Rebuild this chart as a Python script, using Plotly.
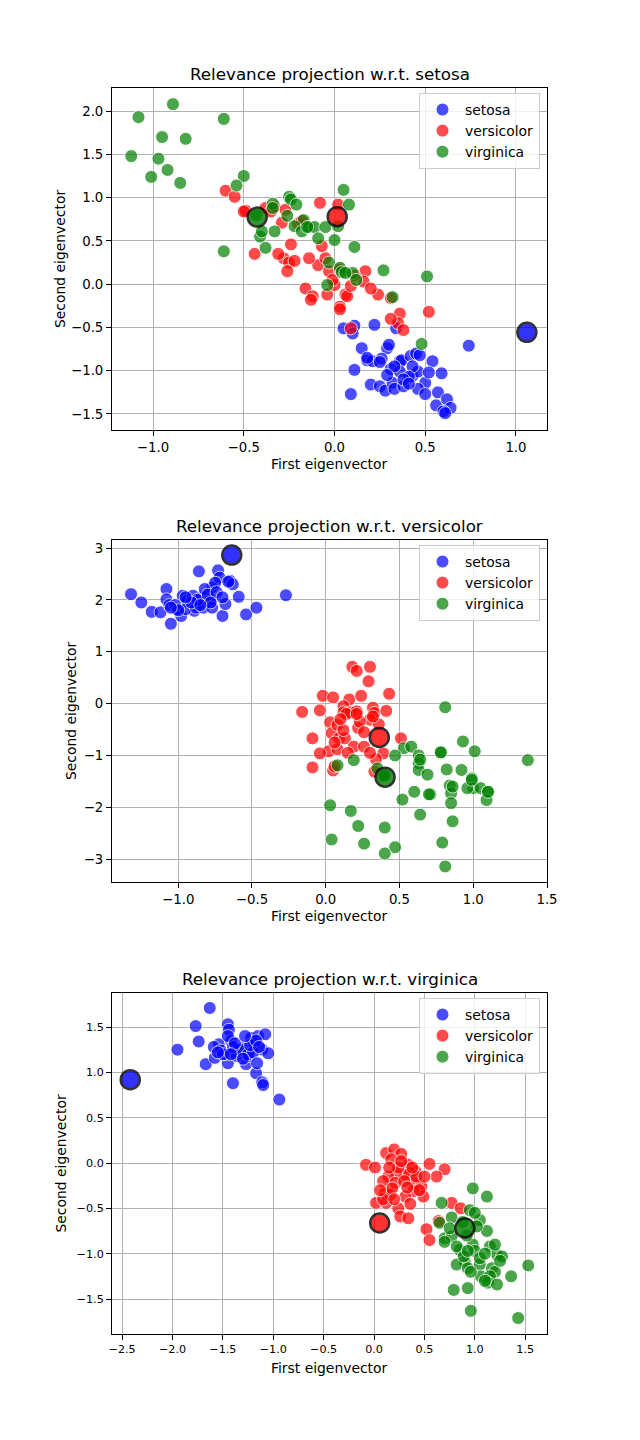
import plotly.graph_objects as go

W, H = 640, 1440

# ---------------- data ----------------
classes = ["setosa", "versicolor", "virginica"]
colors = {"setosa": "#0000ff", "versicolor": "#ff0000", "virginica": "#008000"}

# Subplot 1: relevance projection w.r.t. setosa
p1_setosa_x = [0.05, 0.11, 0.10, 0.22, 0.34, 0.74, 0.15, 0.18, 0.21, 0.29, 0.30, 0.26, 0.11, 0.20, 0.25, 0.28, 0.32, 0.33, 0.38, 0.36, 0.37, 0.42, 0.45, 0.31, 0.36, 0.43, 0.46, 0.43, 0.54, 0.59, 0.50, 0.46, 0.50, 0.09, 0.57, 0.56, 0.62, 0.64, 0.60, 0.61, 0.41, 0.33, 0.38, 0.25, 0.52, 0.47, 0.29, 0.41, 0.18]
p1_setosa_y = [-0.51, -0.48, -0.57, -0.47, -0.51, -0.71, -0.74, -0.88, -0.89, -0.74, -0.70, -0.86, -0.99, -1.16, -1.18, -1.23, -1.14, -1.21, -1.18, -0.89, -0.88, -0.83, -0.80, -0.98, -1.01, -1.06, -1.01, -0.95, -0.89, -1.03, -1.14, -1.21, -1.27, -1.27, -1.25, -1.40, -1.33, -1.43, -1.47, -1.49, -1.07, -0.95, -1.10, -0.90, -1.02, -0.82, -1.05, -1.15, -0.85]
p1_versicolor_x = [-0.60, -0.55, -0.49, -0.38, -0.35, -0.33, -0.08, -0.44, -0.24, -0.28, -0.25, -0.22, -0.26, -0.07, -0.09, -0.03, 0.03, 0.17, 0.16, -0.16, -0.12, -0.13, -0.04, 0.00, 0.06, 0.03, 0.03, 0.24, 0.31, 0.36, 0.35, 0.38, 0.52, 0.09, -0.29, -0.27, -0.20, 0.07, -0.01, 0.09, 0.31, -0.05, 0.11, -0.31, 0.20, -0.18, 0.02, -0.50, -0.14]
p1_versicolor_y = [1.08, 1.01, 0.85, 0.88, 0.84, 0.90, 0.94, 0.35, 0.46, 0.30, 0.25, 0.27, 0.15, 0.44, 0.22, 0.15, 0.17, 0.15, 0.03, -0.05, -0.14, -0.18, -0.12, -0.01, -0.12, -0.26, -0.29, -0.12, -0.16, -0.34, -0.45, -0.53, -0.32, -0.51, 0.71, 0.86, 0.70, -0.14, 0.05, -0.02, -0.40, 0.30, 0.10, 0.35, -0.05, 0.73, 0.92, 0.84, 0.30]
p1_virginica_x = [-0.89, -1.08, -0.61, -0.95, -0.82, -1.12, -0.97, -0.92, -1.01, -0.85, -0.50, -0.54, -0.61, -0.25, -0.24, -0.34, -0.34, -0.21, -0.26, -0.17, -0.22, -0.18, -0.14, -0.11, -0.05, -0.09, 0.00, 0.02, 0.05, 0.08, -0.41, -0.40, -0.38, -0.33, 0.11, -0.03, 0.03, 0.04, 0.10, 0.12, 0.27, 0.32, 0.51, -0.04, 0.48, -0.43, -0.15, 0.06]
p1_virginica_y = [2.08, 1.93, 1.91, 1.70, 1.68, 1.48, 1.45, 1.32, 1.24, 1.17, 1.25, 1.14, 0.38, 1.01, 0.98, 0.93, 0.88, 0.92, 0.79, 0.74, 0.67, 0.61, 0.66, 0.66, 0.66, 0.53, 0.51, 0.67, 1.09, 0.92, 0.55, 0.61, 0.42, 0.61, 0.43, 0.25, 0.19, 0.14, 0.13, 0.05, 0.16, -0.15, 0.09, -0.01, -0.69, 0.80, 0.66, 0.13]
p1_proto_x = [1.06, 0.015, -0.426]
p1_proto_y = [-0.556, 0.78, 0.775]

# Subplot 2: relevance projection w.r.t. versicolor
p2_setosa_x = [-1.32, -1.25, -1.18, -1.12, -1.05, -1.08, -1.08, -1.06, -0.98, -0.97, -0.94, -0.90, -0.89, -0.86, -0.84, -0.78, -0.77, -0.73, -0.72, -0.70, -0.68, -0.65, -0.63, -0.59, -0.54, -0.47, -0.27, -1.01, -0.95, -0.88, -0.83, -0.77, -0.82, -0.75, -0.87, -0.91, -1.02, -1.00, -0.80, -0.74, -0.78, -0.85, -0.95, -1.05, -0.70, -0.66]
p2_setosa_y = [2.11, 1.95, 1.77, 1.76, 1.54, 2.21, 2.01, 1.90, 1.69, 2.08, 1.98, 2.08, 1.79, 2.55, 2.05, 2.01, 2.24, 2.57, 2.43, 1.69, 1.92, 2.37, 2.30, 2.06, 1.72, 1.85, 2.09, 1.82, 1.82, 1.85, 1.85, 1.85, 2.21, 2.33, 2.00, 1.95, 1.90, 1.80, 2.10, 2.15, 1.95, 1.90, 2.05, 1.85, 2.05, 2.35]
p2_versicolor_x = [0.18, 0.21, 0.30, 0.29, -0.02, 0.05, 0.16, 0.24, 0.43, -0.16, -0.04, 0.03, 0.12, 0.12, 0.17, 0.21, 0.32, 0.33, 0.30, 0.41, 0.22, -0.09, 0.04, 0.09, 0.13, 0.02, -0.04, 0.08, 0.19, 0.26, 0.39, 0.34, -0.09, 0.05, 0.33, 0.51, 0.08, 0.23, 0.12, 0.14, 0.10, 0.06, 0.15, 0.26, 0.36, 0.30, 0.21, 0.06, 0.32]
p2_versicolor_y = [0.71, 0.63, 0.71, 0.43, 0.15, 0.12, 0.08, 0.15, 0.19, -0.16, -0.13, -0.36, -0.05, -0.17, -0.17, -0.15, -0.08, -0.18, -0.31, -0.14, -0.47, -0.67, -0.57, -0.67, -0.67, -0.92, -0.96, -0.88, -0.83, -0.83, -0.96, -1.07, -1.23, -1.29, -1.31, -0.67, -0.41, -0.35, -0.51, -0.20, -0.30, -0.75, -0.95, -0.55, -0.40, -0.95, -0.20, -1.21, -0.25]
p2_virginica_x = [0.81, 0.93, 1.01, 1.37, 0.53, 0.58, 0.63, 0.63, 0.63, 0.69, 0.78, 0.82, 0.92, 0.99, 1.00, 1.05, 1.10, 1.09, 0.96, 0.84, 0.85, 0.85, 0.86, 0.71, 0.60, 0.52, 0.64, 0.47, 0.35, 0.19, 0.08, 0.03, 0.17, 0.22, 0.40, 0.04, 0.26, 0.47, 0.40, 0.79, 0.81, 0.70, 0.78, 0.99, 1.10, 0.86, 0.64, 0.39, 0.40]
p2_virginica_y = [-0.07, -0.73, -0.92, -1.09, -0.86, -0.83, -1.00, -1.15, -1.28, -1.37, -0.94, -1.27, -1.28, -1.44, -1.63, -1.63, -1.70, -1.86, -1.63, -1.58, -1.73, -1.92, -2.27, -1.75, -1.70, -1.85, -2.14, -1.00, -1.25, -1.09, -1.19, -1.96, -2.07, -2.36, -2.39, -2.62, -2.70, -2.77, -2.89, -2.68, -3.14, -1.75, -0.94, -1.47, -1.70, -1.60, -1.08, -1.40, -1.38]
p2_proto_x = [-0.637, 0.363, 0.402]
p2_proto_y = [2.865, -0.652, -1.419]

# Subplot 3: relevance projection w.r.t. virginica
p3_setosa_x = [-1.95, -1.63, -1.77, -1.74, -1.67, -1.58, -1.54, -1.45, -1.44, -1.42, -1.45, -1.40, -1.48, -1.39, -1.30, -1.27, -1.24, -1.22, -1.19, -1.17, -1.15, -1.11, -1.08, -1.05, -1.11, -1.10, -0.94, -1.59, -1.52, -1.50, -1.36, -1.33, -1.40, -1.25, -1.20, -1.23, -1.17, -1.14, -1.30, -1.45, -1.55, -1.16, -1.38, -1.28, -1.42]
p3_setosa_y = [1.25, 1.71, 1.51, 1.34, 1.09, 1.16, 1.31, 1.53, 1.47, 1.35, 1.10, 0.88, 1.20, 1.21, 1.27, 1.09, 1.18, 1.38, 1.31, 0.99, 1.40, 1.25, 1.42, 1.21, 0.89, 0.86, 0.70, 1.28, 1.24, 1.20, 1.18, 1.25, 1.28, 1.20, 1.22, 1.30, 1.35, 1.28, 1.15, 1.40, 1.22, 1.10, 1.32, 1.40, 1.20]
p3_versicolor_x = [-0.08, 0.01, 0.12, 0.20, 0.27, 0.17, 0.34, 0.41, 0.55, 0.70, 0.62, 0.36, 0.31, 0.22, 0.14, 0.21, 0.40, 0.47, 0.49, 0.39, 0.11, 0.02, 0.12, 0.24, 0.26, 0.34, 0.52, 0.55, 0.64, 0.77, 0.86, 0.09, 0.16, 0.31, 0.24, 0.30, 0.18, 0.42, 0.09, 0.36, 0.45, 0.20, 0.27, 0.15, 0.33, 0.06, 0.50, 0.38]
p3_versicolor_y = [-0.02, -0.05, 0.11, 0.15, 0.10, 0.04, -0.02, -0.09, -0.01, -0.07, -0.15, -0.11, -0.13, -0.11, -0.15, -0.22, -0.22, -0.26, -0.37, -0.31, -0.33, -0.44, -0.44, -0.50, -0.59, -0.61, -0.73, -0.85, -0.64, -0.44, -0.50, -0.20, -0.35, -0.37, -0.05, -0.20, -0.28, -0.15, -0.40, -0.45, -0.30, -0.40, 0.02, -0.05, -0.27, -0.30, -0.15, -0.05]
p3_virginica_x = [0.98, 1.12, 0.67, 0.95, 0.77, 0.65, 1.05, 1.12, 0.70, 0.77, 0.85, 0.98, 1.00, 1.15, 1.22, 1.27, 0.90, 0.82, 0.93, 1.05, 1.17, 1.20, 1.06, 1.15, 1.13, 1.22, 1.36, 1.53, 0.79, 0.93, 0.96, 1.43, 0.89, 1.05, 0.92, 1.02, 1.20, 0.75, 0.96, 1.10, 0.82, 1.25, 0.88, 1.00, 0.70, 1.10, 0.93]
p3_virginica_y = [-0.28, -0.37, -0.44, -0.52, -0.60, -0.66, -0.63, -0.75, -0.83, -0.81, -0.96, -0.90, -0.97, -0.92, -1.01, -1.03, -1.09, -1.12, -1.16, -1.12, -1.16, -1.20, -1.25, -1.25, -1.32, -1.34, -1.25, -1.13, -1.40, -1.38, -1.63, -1.71, -1.03, -1.05, -0.80, -0.70, -0.90, -0.72, -1.20, -1.00, -0.92, -1.08, -0.65, -0.55, -0.87, -1.30, -0.97]
p3_proto_x = [-2.419, 0.056, 0.901]
p3_proto_y = [0.919, -0.662, -0.717]

titles = ["Relevance projection w.r.t. setosa",
          "Relevance projection w.r.t. versicolor",
          "Relevance projection w.r.t. virginica"]
x_label = "First eigenvector"
y_label = "Second eigenvector"

# ---------------- layout geometry (pixels) ----------------
PX_L, PX_R = 112, 547
panels = [
    dict(top=88, bot=430, xr=[-1.226, 1.171], yr=[-1.685, 2.267],
         xt=[-1.0, -0.5, 0.0, 0.5, 1.0], yt=[-1.5, -1.0, -0.5, 0.0, 0.5, 1.0, 1.5, 2.0],
         xf=".1f", yf=".1f", tick=13.3, ylab_x=60),
    dict(top=540, bot=882, xr=[-1.449, 1.5], yr=[-3.44, 3.155],
         xt=[-1.0, -0.5, 0.0, 0.5, 1.0, 1.5], yt=[-3, -2, -1, 0, 1, 2, 3],
         xf=".1f", yf="d", tick=13.3, ylab_x=71),
    dict(top=993, bot=1334, xr=[-2.60, 1.716], yr=[-1.886, 1.875],
         xt=[-2.5, -2.0, -1.5, -1.0, -0.5, 0.0, 0.5, 1.0, 1.5], yt=[-1.5, -1.0, -0.5, 0.0, 0.5, 1.0, 1.5],
         xf=".1f", yf=".1f", tick=11.2, ylab_x=60),
]

data = [
    (p1_setosa_x, p1_setosa_y, p1_versicolor_x, p1_versicolor_y, p1_virginica_x, p1_virginica_y, p1_proto_x, p1_proto_y),
    (p2_setosa_x, p2_setosa_y, p2_versicolor_x, p2_versicolor_y, p2_virginica_x, p2_virginica_y, p2_proto_x, p2_proto_y),
    (p3_setosa_x, p3_setosa_y, p3_versicolor_x, p3_versicolor_y, p3_virginica_x, p3_virginica_y, p3_proto_x, p3_proto_y),
]

FONT = "DejaVu Sans"
fig = go.Figure()
layout = dict(width=W, height=H, autosize=False, margin=dict(l=0, r=0, t=0, b=0, autoexpand=False),
              paper_bgcolor="white", plot_bgcolor="white",
              font=dict(family=FONT, color="black"), annotations=[])

def py(p):
    return 1 - p / H

for i, (pan, d) in enumerate(zip(panels, data)):
    n = "" if i == 0 else str(i + 1)
    xa, ya = "x" + n, "y" + n
    leg = "legend" + n
    sets = [(d[0], d[1]), (d[2], d[3]), (d[4], d[5])]
    for c, (xs, ys) in zip(classes, sets):
        fig.add_trace(go.Scatter(
            x=xs, y=ys, mode="markers", name=c, xaxis=xa, yaxis=ya, legend=leg,
            marker=dict(color=colors[c], size=13, opacity=0.7,
                        line=dict(color="white", width=1))))
    px_, py_ = d[6], d[7]
    for k, c in enumerate(classes):
        fig.add_trace(go.Scatter(
            x=[px_[k]], y=[py_[k]], mode="markers", showlegend=False,
            xaxis=xa, yaxis=ya,
            marker=dict(color=colors[c], size=19, opacity=0.8,
                        line=dict(color="black", width=2.5))))
    common = dict(showgrid=True, gridcolor="#b0b0b0", gridwidth=0.8, automargin=False,
                  showline=True, mirror=True, linecolor="black", linewidth=1,
                  ticks="outside", ticklen=5, tickwidth=1, tickcolor="black",
                  zeroline=False, tickfont=dict(family=FONT, size=pan["tick"], color="black"))
    layout["xaxis" + n] = dict(common, domain=[PX_L / W, PX_R / W], range=pan["xr"],
                               tickvals=pan["xt"], tickformat=pan["xf"], anchor=ya)
    layout["yaxis" + n] = dict(common, domain=[py(pan["bot"]), py(pan["top"])], range=pan["yr"],
                               tickvals=pan["yt"], tickformat=pan["yf"], anchor=xa)
    layout[leg] = dict(x=540 / W, y=py(pan["top"] + 5), xanchor="right", yanchor="top",
                       bgcolor="rgba(255,255,255,0.8)", bordercolor="#cccccc", borderwidth=1,
                       font=dict(family=FONT, size=13.9, color="black"),
                       itemsizing="trace", itemwidth=35, tracegroupgap=0)
    cx = (PX_L + PX_R) / 2 / W
    layout["annotations"] += [
        dict(text=titles[i], x=cx, y=py(pan["top"] - 14), xref="paper", yref="paper",
             xanchor="center", yanchor="middle", showarrow=False,
             font=dict(family=FONT, size=16.7, color="black")),
        dict(text=x_label, x=cx, y=py(pan["bot"] + 34), xref="paper", yref="paper",
             xanchor="center", yanchor="middle", showarrow=False,
             font=dict(family=FONT, size=13.9, color="black")),
        dict(text=y_label, x=pan["ylab_x"] / W, y=py((pan["top"] + pan["bot"]) / 2),
             xref="paper", yref="paper", xanchor="center", yanchor="middle",
             showarrow=False, textangle=-90,
             font=dict(family=FONT, size=13.9, color="black")),
    ]

fig.update_layout(**layout)
fig.write_html("out.html")
